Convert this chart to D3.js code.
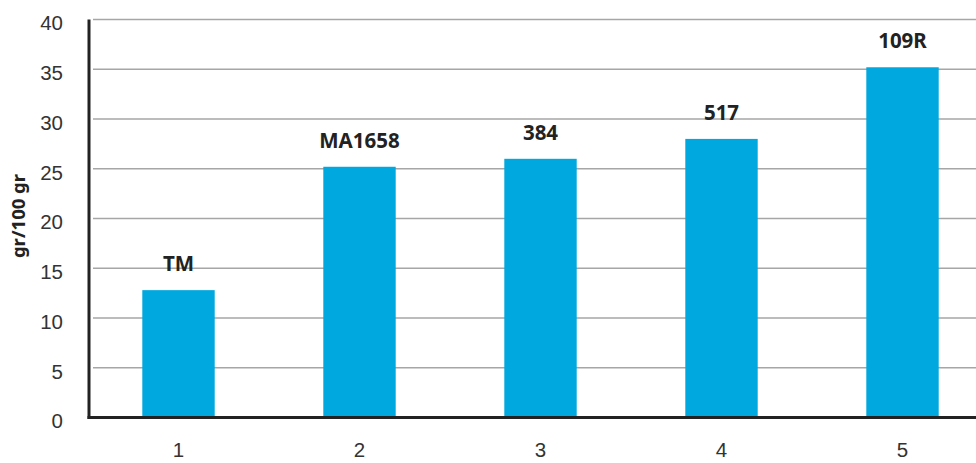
<!DOCTYPE html>
<html>
<head>
<meta charset="utf-8">
<script src="https://cdn.jsdelivr.net/npm/d3@7"></script>
<style>
  html, body { margin: 0; padding: 0; background: #fff; }
  svg { display: block; }
</style>
</head>
<body>
<svg id="chart" width="976" height="463"></svg>
<script>
// Chart data
const categories = ["1", "2", "3", "4", "5"];
const values = [12.8, 25.2, 26.0, 28.0, 35.2];
const barLabels = ["TM", "MA1658", "384", "517", "109R"];
const yTicks = [0, 5, 10, 15, 20, 25, 30, 35, 40];

const svg = d3.select("#chart");
const width = +svg.attr("width");

const x = d3.scaleBand()
  .domain(categories)
  .range([88, 993])
  .paddingInner(0.6)
  .paddingOuter(0.3);

const y = d3.scaleLinear()
  .domain([0, 40])
  .range([417.5, 19.5]);

// Gridlines
svg.append("g")
  .selectAll("line")
  .data(yTicks.filter(d => d > 0))
  .enter()
  .append("line")
  .attr("x1", 93)
  .attr("x2", width)
  .attr("y1", d => y(d))
  .attr("y2", d => y(d))
  .attr("stroke", "#a6a6a6")
  .attr("stroke-width", 1.3);

// Bars
svg.append("g")
  .selectAll("rect")
  .data(values)
  .enter()
  .append("rect")
  .attr("x", (d, i) => x(categories[i]))
  .attr("y", d => y(d))
  .attr("width", x.bandwidth())
  .attr("height", d => y(0) - y(d))
  .attr("fill", "#00a8e0");

// Bar labels
svg.append("g")
  .selectAll("text")
  .data(values)
  .enter()
  .append("text")
  .attr("x", (d, i) => x(categories[i]) + x.bandwidth() / 2)
  .attr("y", d => y(d) - 19)
  .attr("text-anchor", "middle")
  .attr("font-family", "'Noto Sans', sans-serif")
  .attr("font-weight", "bold")
  .attr("font-size", 20.5)
  .attr("fill", "#222")
  .text((d, i) => barLabels[i]);

// Y axis
const yAxis = svg.append("g")
  .attr("transform", "translate(89,0)")
  .call(d3.axisLeft(y).tickValues(yTicks).tickSize(0).tickPadding(26));
yAxis.select(".domain").attr("stroke", "#222").attr("stroke-width", 3)
  .attr("d", `M0,${y(40)}V${y(0) + 1.5}`);
yAxis.selectAll("text")
  .attr("font-family", "'Liberation Sans', Arial, sans-serif")
  .attr("font-size", 20.5)
  .attr("fill", "#333")
  .attr("dy", "0.5em");

// X axis
const xAxis = svg.append("g")
  .attr("transform", `translate(0,${y(0)})`)
  .call(d3.axisBottom(x).tickSize(0).tickPadding(25));
xAxis.select(".domain").attr("stroke", "#222").attr("stroke-width", 3)
  .attr("d", `M87.5,0H${width}`);
xAxis.selectAll("text")
  .attr("font-family", "'Liberation Sans', Arial, sans-serif")
  .attr("font-size", 20.5)
  .attr("fill", "#333");

// Y axis title
svg.append("text")
  .attr("transform", "translate(25,216) rotate(-90)")
  .attr("text-anchor", "middle")
  .attr("font-family", "'Noto Sans', sans-serif")
  .attr("font-weight", "bold")
  .attr("font-size", 18.5)
  .attr("fill", "#222")
  .text("gr/100 gr");
</script>
</body>
</html>
